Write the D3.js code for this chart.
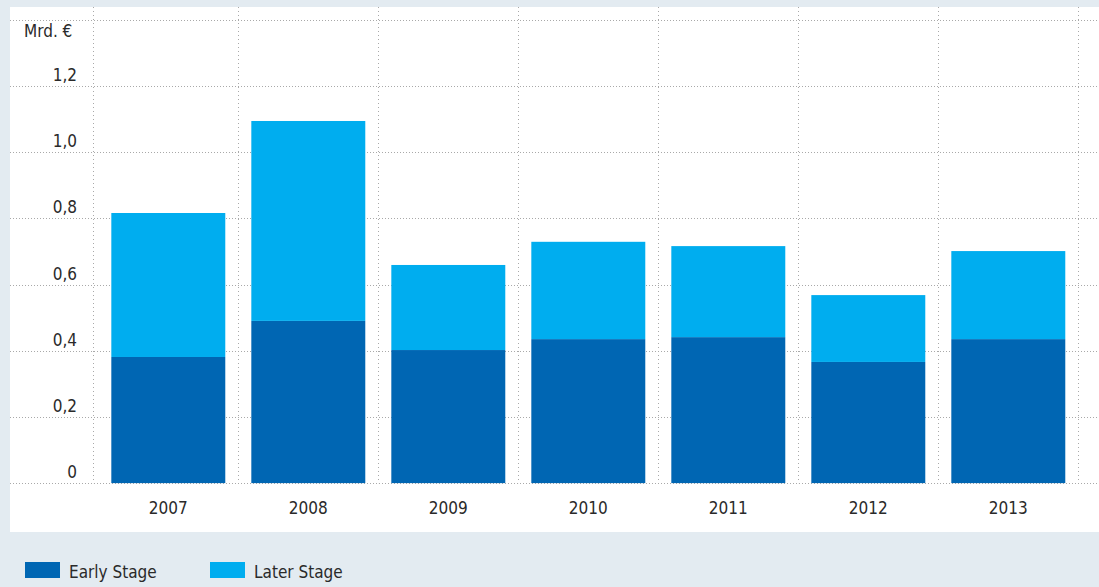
<!DOCTYPE html>
<html>
<head>
<meta charset="utf-8">
<script src="https://cdn.jsdelivr.net/npm/d3@7"></script>
<style>
  body { margin: 0; background: #e3ebf1; }
  #chart { width: 1099px; height: 587px; }
  text { font-family: "DejaVu Sans Condensed", "DejaVu Sans", sans-serif; fill: #2a2a2a; }
</style>
</head>
<body>
<div id="chart"></div>
<script>
const years = ["2007", "2008", "2009", "2010", "2011", "2012", "2013"];
const earlyStage = [0.381, 0.490, 0.402, 0.435, 0.441, 0.366, 0.435];
const laterStage = [0.435, 0.604, 0.257, 0.294, 0.275, 0.202, 0.266];
const yTicks = [0, 0.2, 0.4, 0.6, 0.8, 1.0, 1.2, 1.4];
const seriesNames = ["Early Stage", "Later Stage"];
const colors = ["#0066b3", "#00adef"];

const width = 1099, height = 587;
const svg = d3.select("#chart").append("svg")
    .attr("width", width)
    .attr("height", height);

// white panel
svg.append("rect")
    .attr("x", 10).attr("y", 7)
    .attr("width", width - 10).attr("height", 525)
    .attr("fill", "#fff");

const x = d3.scaleBand()
    .domain(years)
    .range([98.3, 1078.3])
    .paddingInner(0.186)
    .paddingOuter(0.093);

const y = d3.scaleLinear()
    .domain([0, 1.4])
    .range([483.1, 19.7]);

const fmt = d => d === 0 ? "0" : d3.format(".1f")(d).replace(".", ",");

// horizontal grid
svg.append("g")
    .selectAll("line")
    .data(yTicks)
    .enter().append("line")
    .attr("x1", 10).attr("x2", width)
    .attr("y1", d => Math.round(y(d)) + 0.5)
    .attr("y2", d => Math.round(y(d)) + 0.5)
    .attr("stroke", "#a9a9a9")
    .attr("stroke-width", 1)
    .attr("stroke-dasharray", "1 2");

// vertical grid: axis line + band boundaries
const step = x.step();
const vx = [92.5].concat(years.map((d, i) => x.range()[0] + step * (i + 1)));
svg.append("g")
    .selectAll("line")
    .data(vx)
    .enter().append("line")
    .attr("x1", d => Math.round(d) + 0.5).attr("x2", d => Math.round(d) + 0.5)
    .attr("y1", 7).attr("y2", y(0))
    .attr("stroke", "#a9a9a9")
    .attr("stroke-width", 1)
    .attr("stroke-dasharray", "1 3");

// stacked bars
const table = years.map((yr, i) => ({ year: yr, early: earlyStage[i], later: laterStage[i] }));
const stacked = d3.stack().keys(["early", "later"])(table);

svg.append("g")
    .selectAll("g")
    .data(stacked)
    .enter().append("g")
    .attr("fill", (d, i) => colors[i])
    .selectAll("rect")
    .data(d => d)
    .enter().append("rect")
    .attr("x", d => x(d.data.year))
    .attr("width", x.bandwidth())
    .attr("y", d => y(d[1]))
    .attr("height", d => y(d[0]) - y(d[1]));

// y tick labels
svg.append("g")
    .selectAll("text")
    .data(yTicks.slice(0, -1))
    .enter().append("text")
    .attr("x", 77)
    .attr("y", d => y(d) - 5)
    .attr("text-anchor", "end")
    .style("font-size", "17px")
    .text(fmt);

svg.append("text")
    .attr("x", 24).attr("y", 37)
    .style("font-size", "17px")
    .text("Mrd. €");

// x labels
svg.append("g")
    .selectAll("text")
    .data(years)
    .enter().append("text")
    .attr("x", d => x(d) + x.bandwidth() / 2)
    .attr("y", 514)
    .attr("text-anchor", "middle")
    .style("font-size", "17px")
    .text(d => d);

// legend
const legend = svg.append("g")
    .selectAll("g")
    .data(seriesNames)
    .enter().append("g")
    .attr("transform", (d, i) => `translate(${25 + i * 185}, 562)`);

legend.append("rect")
    .attr("width", 35).attr("height", 16)
    .attr("fill", (d, i) => colors[i]);

legend.append("text")
    .attr("x", 44).attr("y", 16)
    .style("font-size", "17px")
    .text(d => d);
</script>
</body>
</html>
